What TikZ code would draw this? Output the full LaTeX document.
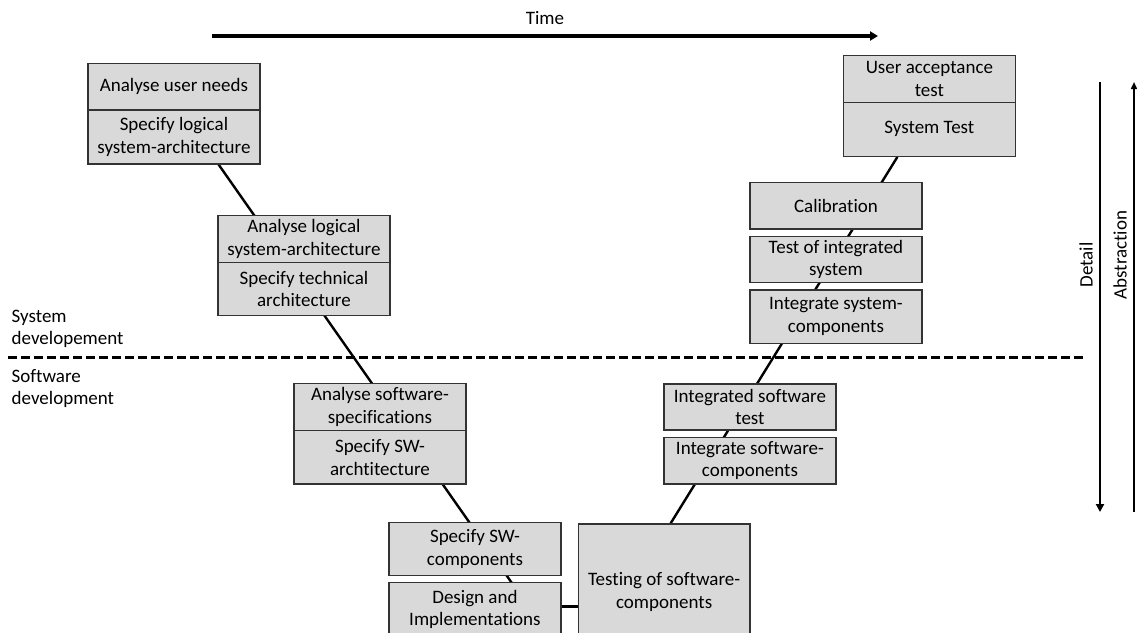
\documentclass[tikz,border=0pt]{standalone}
\usepackage{fontspec}
\setmainfont{Carlito}[Ligatures=NoCommon]
\usetikzlibrary{calc,backgrounds,arrows.meta}
\definecolor{boxfill}{HTML}{D9D9D9}
\definecolor{boxline}{HTML}{333333}

\begin{document}
\begin{tikzpicture}[x=1pt,y=-1pt,
  stage/.style={draw=boxline, line width=1.3pt, fill=boxfill, anchor=north west,
    minimum width=172pt, inner sep=0.5pt, align=center,
    font=\fontsize{19}{22.5}\selectfont},
  link/.style={line width=2.4pt},
  sidetext/.style={inner sep=0pt, align=left, font=\fontsize{19}{22.5}\selectfont},
]
\useasboundingbox (0,0) rectangle (1137,632);
\clip (0,0) rectangle (1137,632);

% left branch of the V
\node[stage, minimum height=46.7pt] (uneeds) at (87.3,62.7) {Analyse user needs};
\node[stage, minimum height=54pt] (slog) at (87.3,109.3) {Specify logical\\system-architecture};
\node[stage, minimum height=46.7pt] (alog) at (217.3,215) {Analyse logical\\system-architecture};
\node[stage, minimum height=53.3pt] (stech) at (217.3,261.7) {Specify technical\\architecture};
\node[stage, minimum height=47.3pt] (aspec) at (293.3,382.7) {Analyse software-\\specifications};
\node[stage, minimum height=53.3pt] (sarch) at (293.3,430) {Specify SW-\\archtitecture};
\node[stage, minimum height=53.3pt] (scomp) at (388.3,521.7) {Specify SW-\\components};
\node[stage, minimum height=54.6pt] (design) at (388.3,581.7) {Design and\\Implementations};

% right branch of the V
\node[stage, minimum width=171.6pt, minimum height=136.4pt] (testing) at (577.7,523.3) {Testing of software-\\components};
\node[stage, minimum height=46pt] (iswtest) at (663.3,383.3) {Integrated software\\test};
\node[stage, minimum height=46.6pt] (iswcomp) at (663.3,436.7) {Integrate software-\\components};
\node[stage, minimum height=46.6pt] (calib) at (749.3,181.7) {Calibration};
\node[stage, minimum height=45.7pt] (tisys) at (749.3,236) {Test of integrated\\system};
\node[stage, minimum height=53.4pt] (isyscomp) at (749.3,289.3) {Integrate system-\\components};
\node[stage, minimum height=46.7pt] (uatest) at (842.7,55) {User acceptance\\test};
\node[stage, minimum height=54pt] (systest) at (842.7,101.7) {System Test};

% the two legs of the V, behind the boxes
\begin{scope}[on background layer]
  \draw[link] ($(slog.south)+(44.7,0)$) -- ($(design.north)+(50,20)$);
  \draw[link] ($(testing.north)+(6.5,0)$) -- ($(systest.south)+(-32,0)$);
\end{scope}
\draw[link] ($(design.east)+(0,-3)$) -- ($(testing.west |- design.east)+(0,-3)$);

% time axis
\coordinate (tstart) at (212,36);
\coordinate (tend) at (878,36);
\draw[line width=3.2pt, -{Triangle[length=8pt,width=9pt]}] (tstart) -- (tend);
\node[sidetext] (time) at (545,18) {Time};

% split between system and software development
\coordinate (dl) at (8,357);
\coordinate (dr) at (1085,357);
\draw[line width=3pt, dash pattern=on 8.5pt off 4.5pt] (dl) -- (dr);
\node[sidetext, anchor=west] (sysdev) at (11.5,329) {System\\developement};
\node[sidetext, anchor=west] (swdev) at (11.5,388.5) {Software\\development};

% detail / abstraction axes
\coordinate (dtop) at (1100,82);
\coordinate (dbot) at (1100,512);
\draw[line width=2.6pt, -{Triangle[length=8pt,width=8pt]}] (dtop) -- (dbot);
\node[sidetext, rotate=90] (detail) at (1086,265) {Detail};
\coordinate (abot) at (1134,512);
\coordinate (atop) at (1134,82);
\draw[line width=1.6pt, -{Triangle[length=7pt,width=6pt]}] (abot) -- (atop);
\node[sidetext, rotate=90] (abstr) at (1120,255) {Abstraction};
\end{tikzpicture}
\end{document}
